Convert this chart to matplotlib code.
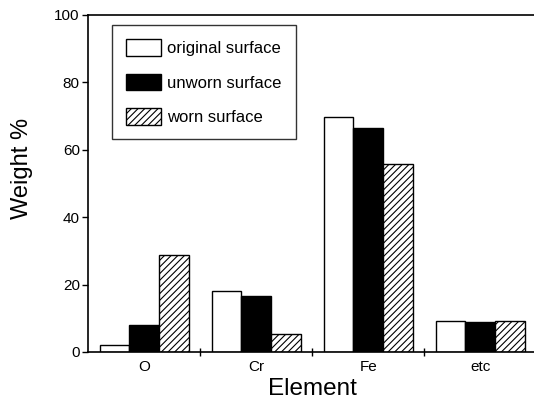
import numpy as np
import matplotlib
matplotlib.use('Agg')
from matplotlib import pyplot as plt

plt.rcParams['font.family'] = ['Liberation Sans', 'DejaVu Sans']
plt.rcParams['hatch.linewidth'] = 0.8

elements = ['O', 'Cr', 'Fe', 'etc']
original = [2.0, 18.2, 69.7, 9.2]
unworn = [8.1, 16.7, 66.5, 8.9]
worn = [28.8, 5.2, 55.9, 9.3]

fig = plt.figure(figsize=(5.34, 4.05), dpi=100)
ax = fig.add_axes([0.165, 0.131, 0.839, 0.832])

x = np.arange(len(elements))
w = 0.265
ax.bar(x - w, original, w, color='white', edgecolor='black', linewidth=1,
       label='original surface')
ax.bar(x, unworn, w, color='black', edgecolor='black', linewidth=1,
       label='unworn surface')
ax.bar(x + w, worn, w, color='white', edgecolor='black', linewidth=1,
       hatch='/////', label='worn surface')

ax.set_xlim(-0.5, 3.5)
ax.set_ylim(0, 100)
ax.set_yticks([0, 20, 40, 60, 80, 100])
ax.set_xticks(x)
ax.set_xticklabels(elements)
ax.set_xticks([0.5, 1.5, 2.5], minor=True)
ax.tick_params(axis='x', which='major', length=0, pad=6, labelsize=11)
ax.tick_params(axis='x', which='minor', direction='inout', length=6, width=1)
ax.tick_params(axis='y', direction='out', length=4.5, width=1, pad=1.5,
               labelsize=11)
for s in ax.spines.values():
    s.set_linewidth(1.2)

ax.set_xlabel('Element', fontsize=17.5, labelpad=3)
ax.set_ylabel('Weight %', fontsize=17)
ax.yaxis.set_label_coords(-0.123, 0.546)

leg = ax.legend(loc='upper left', bbox_to_anchor=(0.054, 0.970),
                borderaxespad=0, fontsize=12,
                frameon=True, fancybox=False, edgecolor='black',
                handlelength=2.05, handleheight=1.15, labelspacing=1.05,
                handletextpad=0.4, borderpad=0.85)
leg.get_frame().set_linewidth(1)

plt.savefig('out.png', dpi=100)
